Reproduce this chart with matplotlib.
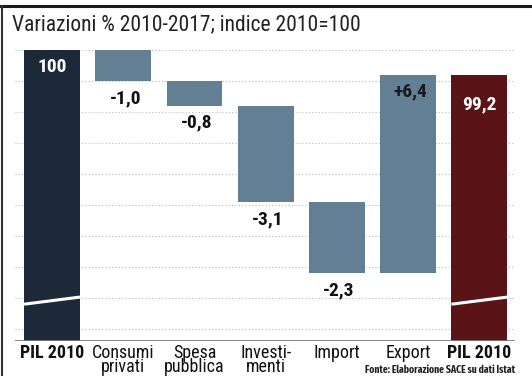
import matplotlib.pyplot as plt
from matplotlib.lines import Line2D

categorie = ['PIL 2010', 'Consumi\nprivati', 'Spesa\npubblica', 'Investi-\nmenti',
             'Import', 'Export', 'PIL 2010']
variazioni = [100, -1.0, -0.8, -3.1, -2.3, 6.4, 99.2]
etichette = ['100', '-1,0', '-0,8', '-3,1', '-2,3', '+6,4', '99,2']
griglia = [91, 92, 93, 94, 95, 96, 97, 98, 99, 100]

FONT = ['Roboto Condensed', 'IBM Plex Sans Condensed', 'DejaVu Sans']
plt.rcParams['font.family'] = FONT

W, H = 532, 376
fig = plt.figure(figsize=(W / 100, H / 100), dpi=100)
fig.patch.set_facecolor('white')

ymin = 100 - 291 / 31
ax = fig.add_axes([15 / W, (H - 341) / H, 500 / W, 291 / H])
ax.set_xlim(-0.52, 6.5)
ax.set_ylim(ymin, 100)
for s in ax.spines.values():
    s.set_visible(False)
ax.set_xticks([])
ax.set_yticks([])

for g in griglia:
    ax.axhline(g, color='#b8bcc0', lw=0.8, ls=(0, (1, 2)), zorder=0)

blu = '#1d2939'
grigio = '#637f94'
rosso = '#5a1316'
w = 0.785

livello = 100
for i, v in enumerate(variazioni):
    if i == 0 or i == len(variazioni) - 1:
        col = blu if i == 0 else rosso
        ax.bar(i, v - ymin, bottom=ymin, width=w, color=col, zorder=2)
        # segno di interruzione dell'asse
        ax.plot([i - w / 2, i + w / 2], [91.8, 92.03], color='white', lw=2.2,
                zorder=3, solid_capstyle='butt')
        off = 0.55 if i == 0 else 0.97
        ax.text(i, v - off, etichette[i], color='white', ha='center', va='center',
                fontsize=14, fontweight='bold', zorder=4)
        livello = v
    else:
        nuovo = livello + v
        ax.bar(i, v, bottom=livello, width=w, color=grigio, zorder=2)
        col = '#111111' if v < 0 else '#1a1a1a'
        ax.text(i + 0.03, nuovo - 0.55, etichette[i], color=col, ha='center',
                va='center', fontsize=14, fontweight='bold', zorder=4)
        livello = nuovo

ax.axhline(ymin, color='#7a7a7a', lw=2, zorder=5)

for i, c in enumerate(categorie):
    bold = (i == 0 or i == len(categorie) - 1)
    ax.text(i, ymin - 0.1, c, ha='center', va='top', fontsize=13,
            fontweight='bold' if bold else 'normal', color='#111111',
            linespacing=0.72, clip_on=False)

fig.text(12 / W, 1 - 25 / H, 'Variazioni % 2010-2017; indice 2010=100', fontsize=15.5,
         color='#222222', ha='left', va='center')
fig.text(515 / W, 1 - 370 / H, 'Fonte: Elaborazione SACE su dati Istat', fontsize=7.5,
         fontweight='bold', color='#222222', ha='right', va='center',
         family=['Fira Sans Extra Condensed', 'DejaVu Sans'])

# cornice
fig.add_artist(Line2D([0, 1], [1 - 5.5 / H] * 2, transform=fig.transFigure,
                      color='#1a1a1a', lw=2.2))
fig.add_artist(Line2D([2 / W] * 2, [0, 1 - 5.5 / H], transform=fig.transFigure,
                      color='#333333', lw=1.5))

fig.savefig('out.png', dpi=100, facecolor='white')
